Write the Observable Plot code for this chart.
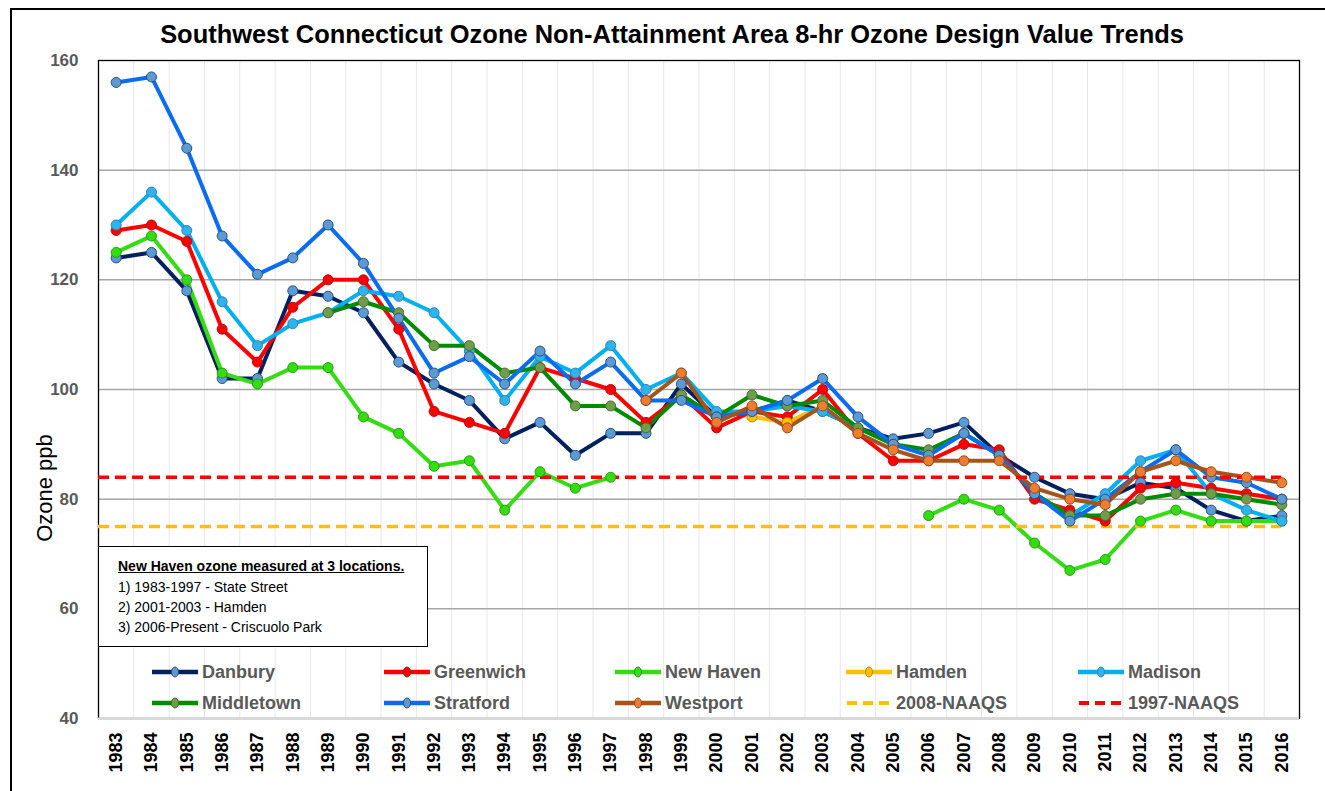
<!DOCTYPE html>
<html>
<head>
<meta charset="utf-8">
<script src="https://cdn.jsdelivr.net/npm/d3@7"></script>
<script src="https://cdn.jsdelivr.net/npm/@observablehq/plot@0.6"></script>
<style>
  body { margin: 0; background: #fff; }
  #wrap { position: relative; width: 1325px; height: 791px; overflow: hidden; background: #fff;
          font-family: "Liberation Sans", Arial, sans-serif; }
  #outer { position: absolute; left: 10px; top: 8px; right: -10px; bottom: -10px;
           border-left: 2px solid #000; border-top: 2px solid #000; pointer-events: none; }
  #title { position: absolute; left: 0; top: 22px; width: 1344px; text-align: center; white-space: nowrap;
           font-family: "Liberation Sans Narrow", "Liberation Sans", Arial, sans-serif;
           font-weight: bold; color: #000; line-height: 1; }
  #chart { position: absolute; left: 0; top: 50px; }
  #ylab { position: absolute; left: 45px; top: 488px; transform: translate(-50%, -50%) rotate(-90deg);
          font-size: 22px; color: #000; white-space: nowrap; }
  #note { position: absolute; left: 98px; top: 546px; width: 328px; height: 99px; background: #fff;
          border: 1.5px solid #000; font-size: 14px; color: #000; }
  #note div { position: absolute; left: 19px; white-space: nowrap; }
  .leg { position: absolute; display: flex; align-items: center; font-weight: bold; font-size: 18px;
         color: #595959; white-space: nowrap; }
  .leg svg { margin-right: 4px; }
</style>
</head>
<body>
<div id="wrap">
  <div id="title">Southwest Connecticut Ozone Non-Attainment Area 8-hr Ozone Design Value Trends</div>
  <div id="chart"></div>
  <div id="ylab">Ozone ppb</div>
  <div id="note">
    <div style="top:11px;font-weight:bold;text-decoration:underline;">New Haven ozone measured at 3 locations.</div>
    <div style="top:32px;">1) 1983-1997 - State Street</div>
    <div style="top:52px;">2) 2001-2003 - Hamden</div>
    <div style="top:72px;">3) 2006-Present - Criscuolo Park</div>
  </div>
  <div id="legend"></div>
  <div id="outer"></div>
</div>
<script>
// ---------------- data ----------------
const years = [1983,1984,1985,1986,1987,1988,1989,1990,1991,1992,1993,1994,1995,1996,1997,1998,1999,
               2000,2001,2002,2003,2004,2005,2006,2007,2008,2009,2010,2011,2012,2013,2014,2015,2016];
const yTicks = [40, 60, 80, 100, 120, 140, 160];

const danbury    = [124,125,118,102,102,118,117,114,105,101,98,91,94,88,92,92,101,95,96,98,96,93,91,92,94,88,84,81,80,83,82,78,76,77];
const greenwich  = [129,130,127,111,105,115,120,120,111,96,94,92,104,102,100,94,99,93,96,95,100,92,87,87,90,89,80,78,76,82,83,82,81,80];
const newHaven   = [125,128,120,103,101,104,104,95,92,86,87,78,85,82,84,null,null,null,null,null,null,null,null,77,80,78,72,67,69,76,78,76,76,76];
const hamden     = [null,null,null,null,null,null,null,null,null,null,null,null,null,null,null,null,null,null,95,94,97,null,null,null,null,null,null,null,null,null,null,null,null,null];
const madison    = [130,136,129,116,108,112,114,118,117,114,107,98,106,103,108,100,103,96,96,97,96,93,90,88,92,88,81,77,81,87,89,81,78,76];
const middletown = [null,null,null,null,null,null,114,116,114,108,108,103,104,97,97,93,99,95,99,97,98,93,90,89,92,88,81,77,77,80,81,81,80,79];
const stratford  = [156,157,144,128,121,124,130,123,113,103,106,101,107,101,105,98,98,95,96,98,102,95,90,88,92,88,81,76,80,85,89,84,83,80];
const westport   = [null,null,null,null,null,null,null,null,null,null,null,null,null,null,null,98,103,94,97,93,97,92,89,87,87,87,82,80,79,85,87,85,84,83];

const naaqs1997 = 84;
const naaqs2008 = 75;

const seriesNames = ["Danbury","Greenwich","New Haven","Hamden","Madison","Middletown","Stratford","Westport"];
const seriesValues = [danbury, greenwich, newHaven, hamden, madison, middletown, stratford, westport];

// ---------------- styles ----------------
const style = {
  "Danbury":    {line: "#002060", fill: "#5b9bd5", stroke: "#2e4f7a"},
  "Greenwich":  {line: "#ff0000", fill: "#ff0000", stroke: "#b01010"},
  "New Haven":  {line: "#33dd11", fill: "#33dd11", stroke: "#2a9a18"},
  "Hamden":     {line: "#ffc000", fill: "#ffc000", stroke: "#b08a10"},
  "Madison":    {line: "#00b0f0", fill: "#2db4ec", stroke: "#3a80b0"},
  "Middletown": {line: "#008c00", fill: "#6e9e4a", stroke: "#4a6a36"},
  "Stratford":  {line: "#0a6cf0", fill: "#5b9bd5", stroke: "#2e4f7a"},
  "Westport":   {line: "#a5541c", fill: "#ed7d31", stroke: "#9a4a1a"},
  "2008-NAAQS": {line: "#ffc000"},
  "1997-NAAQS": {line: "#ff0000"}
};

const tables = seriesNames.map((name, k) =>
  years.map((yr, i) => ({series: name, year: yr, value: seriesValues[k][i]})));
const boundaries = years.slice(1).map(y => y - 0.5);
const xStart = years[0] - 0.5, xEnd = years[years.length - 1] + 0.5;

const marks = [
  Plot.ruleX(boundaries, {stroke: "#e8e8e8", strokeWidth: 1}),
  Plot.ruleY(yTicks.slice(1, -1), {stroke: "#a6a6a6", strokeWidth: 1.5}),
  Plot.frame({stroke: "#000", strokeWidth: 1.3}),
  Plot.ruleY([yTicks[0]], {stroke: "#d9d9d9", strokeWidth: 2}),
  Plot.axisX(years, {tickRotate: -90, tickSize: 0, tickPadding: 14, tickFormat: d => String(d),
                     fontSize: 18, fontWeight: "bold", fill: "#000", label: null}),
  Plot.axisY(yTicks, {tickSize: 0, tickPadding: 20, fontSize: 17, fontWeight: "bold",
                      fill: "#595959", label: null})
];
tables.forEach((t, k) => {
  const s = style[seriesNames[k]];
  marks.push(Plot.line(t, {x: "year", y: "value", stroke: s.line, strokeWidth: 4, curve: "linear"}));
});
marks.push(Plot.ruleY([naaqs2008], {x1: xStart, x2: years[years.length - 1], stroke: style["2008-NAAQS"].line,
                                     strokeWidth: 3.5, strokeDasharray: "11,6"}));
marks.push(Plot.ruleY([naaqs1997], {x1: xStart, x2: years[years.length - 1], stroke: style["1997-NAAQS"].line,
                                     strokeWidth: 3.5, strokeDasharray: "11,6"}));
tables.forEach((t, k) => {
  const s = style[seriesNames[k]];
  marks.push(Plot.dot(t, {x: "year", y: "value", r: 5, fill: s.fill, stroke: s.stroke, strokeWidth: 1}));
});

const chart = Plot.plot({
  width: 1325, height: 741,
  marginLeft: 98, marginRight: 26, marginTop: 10, marginBottom: 73,
  x: {type: "linear", domain: [xStart, xEnd]},
  y: {domain: [yTicks[0], yTicks[yTicks.length - 1]]},
  style: {background: "transparent", fontFamily: "'Liberation Sans', Arial, sans-serif"},
  marks
});
document.getElementById("chart").appendChild(chart);

// fit title width
(function () {
  const el = document.getElementById("title");
  const ctx = document.createElement("canvas").getContext("2d");
  const fam = getComputedStyle(el).fontFamily;
  ctx.font = "bold 100px " + fam;
  const w = ctx.measureText(el.textContent).width;
  el.style.fontSize = (100 * 1025 / w).toFixed(2) + "px";
})();

// legend
const legendItems = seriesNames.concat(["2008-NAAQS", "1997-NAAQS"]);
const legCols = [152, 384, 615, 846, 1078];
const legRows = [672, 703];
const legend = document.getElementById("legend");
legendItems.forEach((name, i) => {
  const s = style[name];
  const d = document.createElement("div");
  d.className = "leg";
  d.style.left = legCols[i % 5] + "px";
  d.style.top = (legRows[Math.floor(i / 5)] - 12) + "px";
  d.style.height = "24px";
  const dashed = name.endsWith("NAAQS");
  let svg = `<svg width="46" height="14">`;
  if (dashed) {
    svg += `<line x1="1" x2="45" y1="7" y2="7" stroke="${s.line}" stroke-width="4" stroke-dasharray="10,6"/>`;
  } else {
    svg += `<line x1="0" x2="46" y1="7" y2="7" stroke="${s.line}" stroke-width="4.5"/>`;
    svg += `<ellipse cx="23" cy="7" rx="3.5" ry="5" fill="${s.fill}" stroke="${s.stroke}" stroke-width="1"/>`;
  }
  svg += `</svg>`;
  d.innerHTML = svg + `<span>${name}</span>`;
  legend.appendChild(d);
});
</script>
</body>
</html>
